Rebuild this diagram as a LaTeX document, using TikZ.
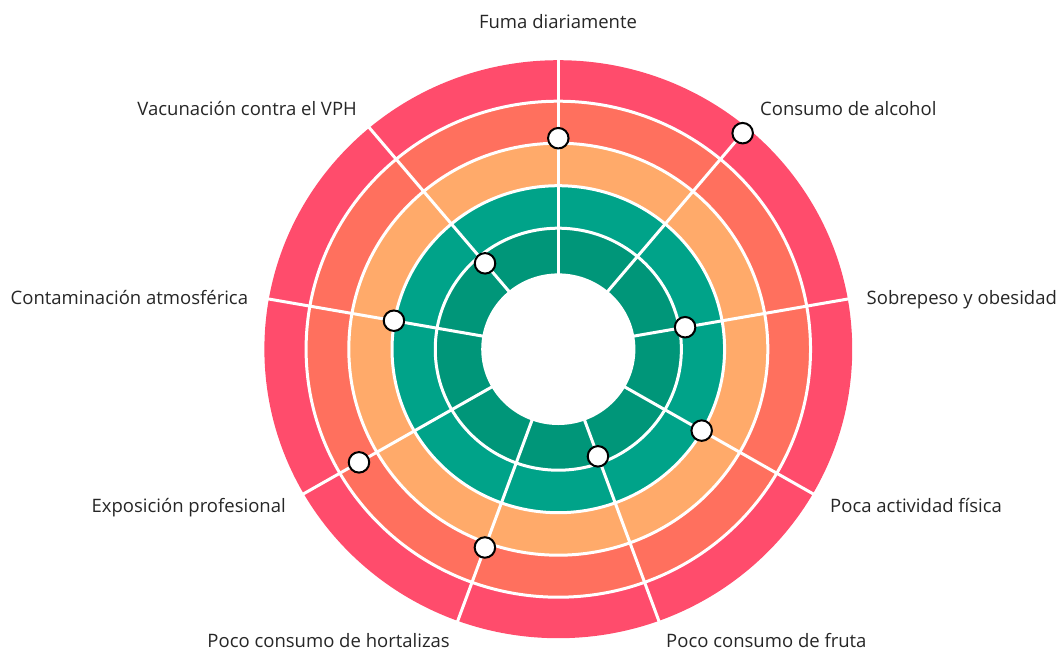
\documentclass[tikz,border=0pt]{standalone}
\usepackage{fontspec}
\setmainfont{Open Sans}
\definecolor{cA}{RGB}{255,76,108}
\definecolor{cB}{RGB}{255,112,94}
\definecolor{cC}{RGB}{255,170,106}
\definecolor{cD}{RGB}{0,163,137}
\definecolor{cE}{RGB}{0,150,121}
\begin{document}
\begin{tikzpicture}[x=1pt,y=-1pt,
  lbl/.style={font=\fontsize{18.5}{22}\selectfont, text=black!85, inner sep=0pt},
  dot/.style={circle, fill=white, draw=black, line width=2pt, minimum size=20.5pt, inner sep=0pt},
  sep/.style={white, line width=3pt}]
\useasboundingbox (0,0) rectangle (1059,651);
\begin{scope}[shift={(558.3,349.2)}, xscale=1.017]
  \fill[cA] (0,0) circle (289);
  \fill[cB] (0,0) circle (248);
  \fill[cC] (0,0) circle (206);
  \fill[cD] (0,0) circle (163.5);
  \fill[cE] (0,0) circle (121);
  \fill[white] (0,0) circle (75.8);
  \foreach \r in {248,206,163.5,121} \draw[sep] (0,0) circle (\r);
  \foreach \a in {90,50,10,-30,-70,-110,-150,-190,-230} \draw[sep] (-\a:74) -- (-\a:292);
  \node[dot] (d1) at (-90:211) {};
  \node[dot] (d2) at (-50:282) {};
  \node[dot] (d3) at (-10:126.6) {};
  \node[dot] (d4) at (30:162.8) {};
  \node[dot] (d5) at (70:114) {};
  \node[dot] (d6) at (110:211) {};
  \node[dot] (d7) at (150:226.3) {};
  \node[dot] (d8) at (-170:164.1) {};
  \node[dot] (d9) at (-130:112.1) {};
\end{scope}
\node[lbl, anchor=base] (l1) at (558,28.5) {Fuma diariamente};
\node[lbl, anchor=base west] (l2) at (760,115) {Consumo de alcohol};
\node[lbl, anchor=base west] (l3) at (866.5,304) {Sobrepeso y obesidad};
\node[lbl, anchor=base west] (l4) at (830,512) {Poca actividad física};
\node[lbl, anchor=base west] (l5) at (666,647) {Poco consumo de fruta};
\node[lbl, anchor=base east] (l6) at (450,647) {Poco consumo de hortalizas};
\node[lbl, anchor=base east] (l7) at (286,512) {Exposición profesional};
\node[lbl, anchor=base east] (l8) at (248.3,304) {Contaminación atmosférica};
\node[lbl, anchor=base east] (l9) at (357,115) {Vacunación contra el VPH};
\end{tikzpicture}
\end{document}
